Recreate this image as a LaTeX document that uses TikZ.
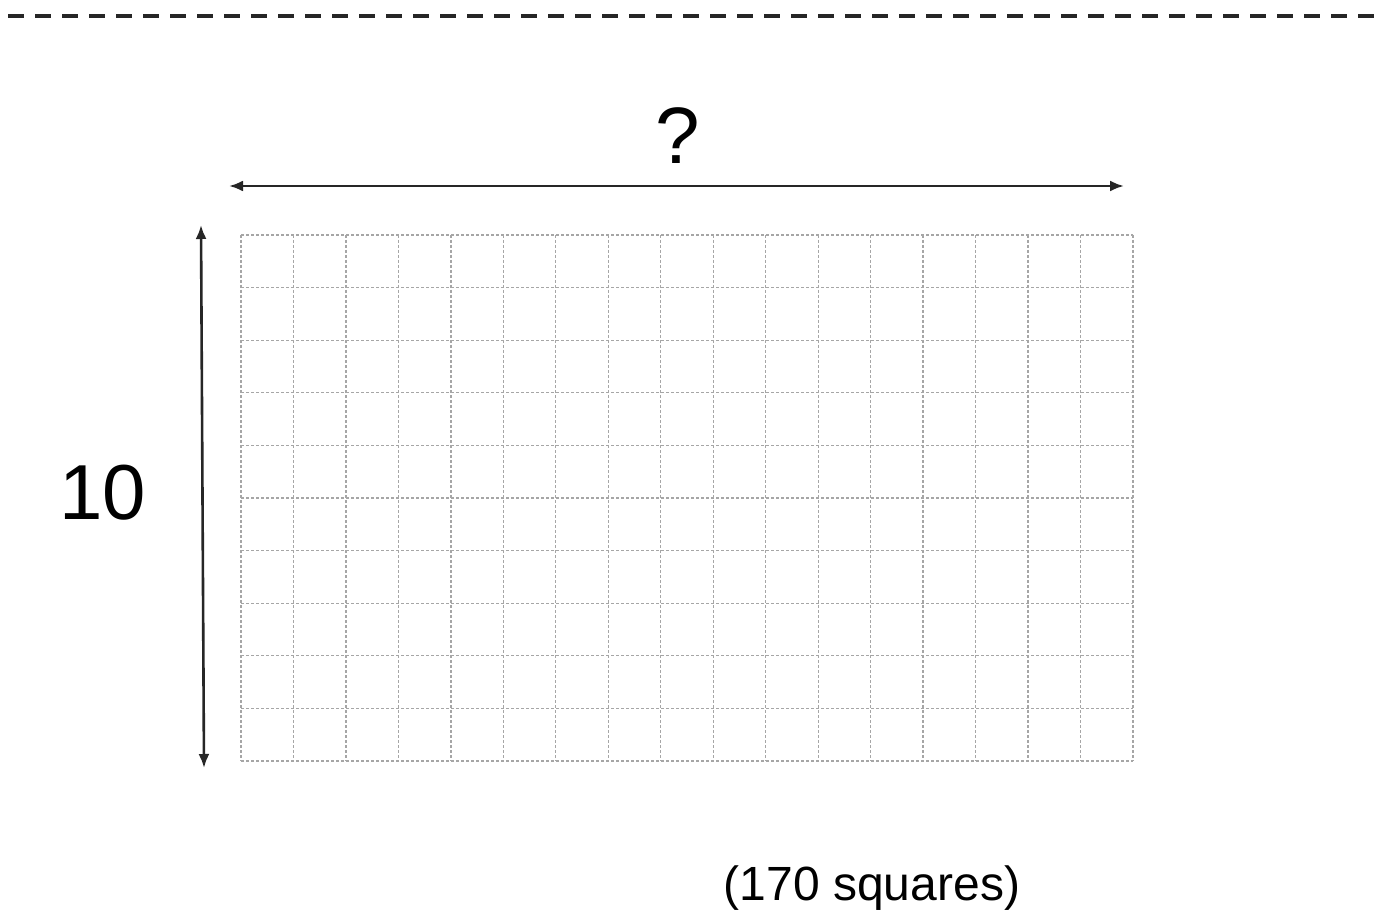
\documentclass[tikz,border=0pt]{standalone}
\usepackage{fontspec}
\setmainfont{Liberation Sans}
\usetikzlibrary{arrows.meta}
\begin{document}
\begin{tikzpicture}[x=1pt,y=-1pt,
  gridline/.style={draw=gray!70,line width=1.3pt,dash pattern=on 3pt off 2pt},
  dimarrow/.style={draw=black!85,line width=2.6pt,{Latex[length=14pt,width=11pt]}-{Latex[length=14pt,width=11pt]}},
  toprule/.style={draw=black!85,line width=3.2pt,dash pattern=on 16pt off 11pt},
  lbl/.style={inner sep=0pt,text=black}]
\useasboundingbox (0,0) rectangle (1379,917);
\fill[white] (0,0) rectangle (1379,917);
% top dashed line
\coordinate (tl) at (8,16);
\coordinate (tr) at (1379,16);
\draw[toprule] (tl) -- (tr);
% grid
\foreach \i in {0,...,17} {
  \draw[gridline] ({241+\i*52.47},235) -- ({241+\i*52.47},761);
}
\foreach \j in {0,...,10} {
  \draw[gridline] (241,{235+\j*52.6}) -- (1133,{235+\j*52.6});
}
% arrows
\coordinate (hl) at (229,186);
\coordinate (hr) at (1124,186);
\draw[dimarrow] (hl) -- (hr);
\coordinate (vt) at (201,225);
\coordinate (vb) at (204,768);
\draw[dimarrow] (vt) -- (vb);
% labels
\node[lbl,font=\fontsize{80}{80}\selectfont] (q) at (678,136) {?};
\node[lbl,font=\fontsize{78}{78}\selectfont] (ten) at (103,493) {10};
\node[lbl,font=\fontsize{48}{48}\selectfont] (sq) at (872,888) {(170 squares)};
\end{tikzpicture}
\end{document}
